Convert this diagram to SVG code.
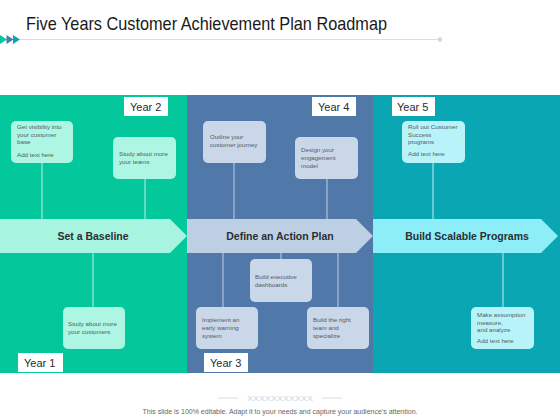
<svg xmlns="http://www.w3.org/2000/svg" width="560" height="420" viewBox="0 0 560 420">
<style>
.title{font-family:"Liberation Sans",Arial,sans-serif;font-size:19px;fill:#1a1a1a}
.yr{fill:#ffffff}
.yt{font-family:"Liberation Sans",Arial,sans-serif;font-size:11px;fill:#2b2b2b}
.lbl{font-family:"Liberation Sans",Arial,sans-serif;font-size:10.5px;font-weight:bold;fill:#2a2f33;text-anchor:middle}
.bt{font-family:"Liberation Sans",Arial,sans-serif;font-size:6.2px;fill:#555a5e}
.gb{fill:#adf6e3}
.bb{fill:#c9d7e9}
.tb{fill:#b7f3f9}
.gl{stroke:#bdf2e5;stroke-width:1}
.bl{stroke:#c2d0e2;stroke-width:1}
.tl{stroke:#c0f0f5;stroke-width:1}
.foot{font-family:"Liberation Sans",Arial,sans-serif;fill:#666;font-size:7px;text-anchor:middle}
</style>
<rect width="560" height="420" fill="#ffffff"/>
<g id="header">
<text class="title" x="26" y="30" textLength="361" lengthAdjust="spacingAndGlyphs">Five Years Customer Achievement Plan Roadmap</text>
<line x1="20" y1="39.5" x2="440" y2="39.5" stroke="#dedede" stroke-width="1"/>
<circle cx="440" cy="39.5" r="2.2" fill="#d6d6d6"/>
<polygon points="0,35 7,39.5 0,44" fill="#03c89b"/>
<polygon points="6.5,35 13.5,39.5 6.5,44" fill="#4f79ab"/>
<polygon points="13,35 20,39.5 13,44" fill="#0aa6b4"/>
</g>
<g id="panels">
<rect x="0" y="95" width="187" height="278" fill="#03c89b"/>
<rect x="187" y="95" width="186" height="278" fill="#5079aa"/>
<rect x="373" y="95" width="187" height="278" fill="#0aa6b4"/>
</g>
<g id="connectors">
<line class="gl" x1="42" y1="163" x2="42" y2="220"/>
<line class="gl" x1="145" y1="179" x2="145" y2="220"/>
<line class="gl" x1="93" y1="253" x2="93" y2="307"/>
<line class="bl" x1="234" y1="163" x2="234" y2="220"/>
<line class="bl" x1="327" y1="179" x2="327" y2="220"/>
<line class="bl" x1="281" y1="253" x2="281" y2="259"/>
<line class="bl" x1="223" y1="253" x2="223" y2="307"/>
<line class="bl" x1="338" y1="253" x2="338" y2="307"/>
<line class="tl" x1="433" y1="163" x2="433" y2="220"/>
<line class="tl" x1="503" y1="253" x2="503" y2="307"/>
</g>
<g id="arrow-baseline">
<polygon points="0,219 170,219 187,236 170,253 0,253" fill="#a7f4e1"/>
<text class="lbl" x="93" y="240">Set a Baseline</text>
</g>
<g id="arrow-action">
<polygon points="187,219 356,219 373,236 356,253 187,253" fill="#bdcfe3"/>
<text class="lbl" x="280" y="240">Define an Action Plan</text>
</g>
<g id="arrow-scalable">
<polygon points="373,219 541,219 558,236 541,253 373,253" fill="#8deef7"/>
<text class="lbl" x="467" y="240">Build Scalable Programs</text>
</g>
<g id="year1"><rect class="yr" x="18" y="353" width="45" height="19"/><text class="yt" x="24" y="367">Year 1</text></g>
<g id="year2"><rect class="yr" x="124" y="97" width="44" height="19"/><text class="yt" x="130" y="111">Year 2</text></g>
<g id="year3"><rect class="yr" x="204" y="353" width="44" height="19"/><text class="yt" x="210" y="367">Year 3</text></g>
<g id="year4"><rect class="yr" x="312" y="97" width="44" height="19"/><text class="yt" x="318" y="111">Year 4</text></g>
<g id="year5"><rect class="yr" x="392" y="97" width="43" height="19"/><text class="yt" x="397" y="111">Year 5</text></g>
<g id="box-visibility">
<rect class="gb" x="11" y="121" width="62" height="42" rx="5"/>
<text class="bt"><tspan x="17" y="129">Get visibility into</tspan><tspan x="17" y="136.5">your customer</tspan><tspan x="17" y="144">base</tspan><tspan x="17" y="157">Add text here</tspan></text>
</g>
<g id="box-teams">
<rect class="gb" x="113" y="137" width="63" height="42" rx="5"/>
<text class="bt"><tspan x="119" y="156">Study about more</tspan><tspan x="119" y="164">your teams</tspan></text>
</g>
<g id="box-customers">
<rect class="gb" x="63" y="307" width="62" height="42" rx="5"/>
<text class="bt"><tspan x="68" y="326">Study about more</tspan><tspan x="68" y="334">your customers</tspan></text>
</g>
<g id="box-journey">
<rect class="bb" x="203" y="121" width="63" height="42" rx="5"/>
<text class="bt"><tspan x="210" y="139">Outline your</tspan><tspan x="210" y="147">customer journey</tspan></text>
</g>
<g id="box-engagement">
<rect class="bb" x="295" y="137" width="63" height="42" rx="5"/>
<text class="bt"><tspan x="301" y="152">Design your</tspan><tspan x="301" y="160">engagement</tspan><tspan x="301" y="168">model</tspan></text>
</g>
<g id="box-dashboards">
<rect class="bb" x="250" y="259" width="62" height="43" rx="5"/>
<text class="bt"><tspan x="255" y="279">Build executive</tspan><tspan x="255" y="287">dashboards</tspan></text>
</g>
<g id="box-warning">
<rect class="bb" x="196" y="307" width="62" height="42" rx="5"/>
<text class="bt"><tspan x="202" y="322">Implement  an</tspan><tspan x="202" y="330">early warning</tspan><tspan x="202" y="338">system</tspan></text>
</g>
<g id="box-team">
<rect class="bb" x="307" y="307" width="62" height="42" rx="5"/>
<text class="bt"><tspan x="313" y="322">Build the right</tspan><tspan x="313" y="330">team and</tspan><tspan x="313" y="338">specialize</tspan></text>
</g>
<g id="box-rollout">
<rect class="tb" x="402" y="121" width="63" height="42" rx="5"/>
<text class="bt"><tspan x="408" y="129">Roll out Customer</tspan><tspan x="408" y="136.5">Success</tspan><tspan x="408" y="144">programs</tspan><tspan x="408" y="155.5">Add text here</tspan></text>
</g>
<g id="box-measure">
<rect class="tb" x="471" y="307" width="63" height="42" rx="5"/>
<text class="bt"><tspan x="477" y="317">Make assumption</tspan><tspan x="477" y="324.5">measure,</tspan><tspan x="477" y="332">and analyze</tspan><tspan x="477" y="343">Add text here</tspan></text>
</g>
<g id="footer">
<line x1="218" y1="398" x2="238" y2="398" stroke="#d4d4d4" stroke-width="0.8"/>
<line x1="322" y1="398" x2="342" y2="398" stroke="#d4d4d4" stroke-width="0.8"/>
<text x="280" y="401" font-family="Liberation Sans, Arial, sans-serif" font-size="8" fill="#d0d0d0" text-anchor="middle" textLength="66" lengthAdjust="spacingAndGlyphs">XXXXXXXXXXX</text>
<text class="foot" x="280" y="414" textLength="275" lengthAdjust="spacingAndGlyphs">This slide is 100% editable. Adapt it to your needs and capture your audience’s attention.</text>
</g>
</svg>
